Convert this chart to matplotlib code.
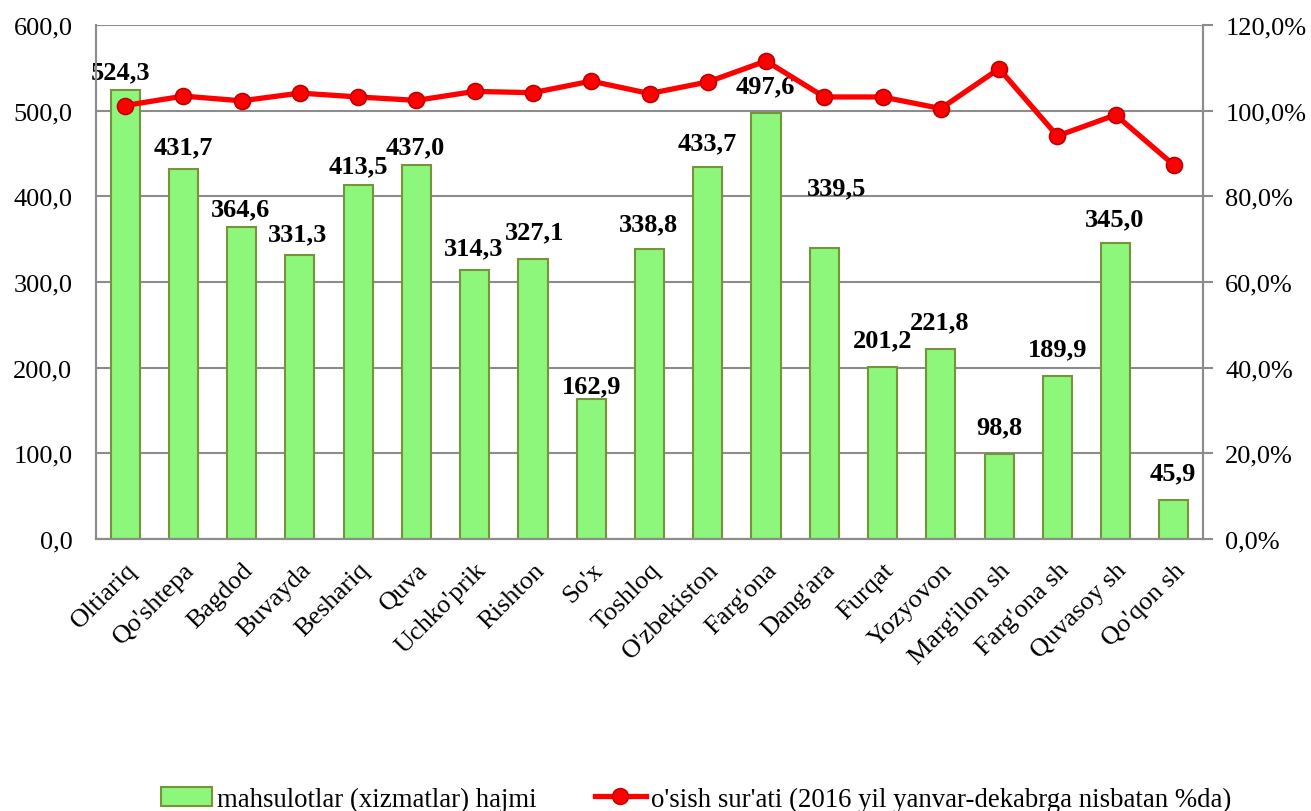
import matplotlib
matplotlib.use("Agg")
import matplotlib.pyplot as plt
from matplotlib.ticker import FuncFormatter, MultipleLocator
from matplotlib.lines import Line2D
from matplotlib.patches import Patch

categories = ["Oltiariq", "Qo'shtepa", "Bagdod", "Buvayda", "Beshariq", "Quva",
              "Uchko'prik", "Rishton", "So'x", "Toshloq", "O'zbekiston", "Farg'ona",
              "Dang'ara", "Furqat", "Yozyovon", "Marg'ilon sh", "Farg'ona sh",
              "Quvasoy sh", "Qo'qon sh"]
volume = [524.3, 431.7, 364.6, 331.3, 413.5, 437.0, 314.3, 327.1, 162.9, 338.8,
          433.7, 497.6, 339.5, 201.2, 221.8, 98.8, 189.9, 345.0, 45.9]
growth = [101.2, 103.4, 102.3, 104.1, 103.2, 102.4, 104.5, 104.2, 106.9, 104.0,
          106.7, 111.6, 103.2, 103.2, 100.5, 109.8, 94.1, 99.0, 87.3]

bar_label = "mahsulotlar (xizmatlar) hajmi"
line_label = "o'sish sur'ati (2016 yil yanvar-dekabrga nisbatan %da)"

# label offsets (px) relative to bar top
label_offsets = [(-5, 18), (0, 22), (-1, 18), (-2, 21), (0, 19), (-1, 18), (-1, 22),
                 (2, 27), (0, 14), (-1, 25), (-1, 25), (-1, 27), (12, 60), (0, 27),
                 (-1, 27), (0, 28), (0, 28), (-1, 25), (-1, 27)]

plt.rcParams['font.family'] = ['Liberation Serif', 'DejaVu Serif']

W, H = 1311, 812
fig = plt.figure(figsize=(W / 100, H / 100), dpi=100)
ax = fig.add_axes([96 / W, 1 - 540 / H, (1203 - 96) / W, (540 - 26) / H])
ax2 = ax.twinx()

x = list(range(len(categories)))
ax.bar(x, volume, width=0.5, color="#8CF77A", edgecolor="#77933C", linewidth=1.5, zorder=2)
ax.set_xlim(-0.5, len(categories) - 0.5)
ax.set_ylim(0, 600)
ax.yaxis.set_major_locator(MultipleLocator(100))
ax.yaxis.set_major_formatter(FuncFormatter(lambda v, p: f"{v:.1f}".replace(".", ",")))
ax.grid(axis="y", color="#8C8C8C", linewidth=1.5, zorder=0)
ax.set_axisbelow(True)

for i, v in enumerate(volume):
    dx, dy = label_offsets[i]
    ax.annotate(f"{v:.1f}".replace(".", ","), xy=(i, v), xytext=(dx * 0.72, dy * 0.72),
                textcoords="offset points", ha="center", va="center",
                fontsize=19, fontweight="bold", zorder=5)

ax2.plot(x, growth, color="#FF0000", linewidth=3.8, marker="o", markersize=11.5,
         markerfacecolor="#FF0000", markeredgecolor="#C00000", markeredgewidth=1.2, zorder=4)
ax2.set_ylim(0, 120)
ax2.yaxis.set_major_locator(MultipleLocator(20))
ax2.yaxis.set_major_formatter(FuncFormatter(lambda v, p: f"{v:.1f}".replace(".", ",") + "%"))

ax.set_xticks(x)
ax.set_xticklabels(categories, rotation=45, ha="right", rotation_mode="anchor", fontsize=19)
ax.tick_params(axis="x", length=0, pad=14)
ax.tick_params(axis="y", labelsize=19, length=0, pad=17)
ax2.tick_params(axis="y", labelsize=19, length=7, width=1.5, color="#8C8C8C", pad=9)

for a in (ax, ax2):
    a.spines["top"].set_visible(False)
    for s in ("left", "right", "bottom"):
        a.spines[s].set_color("#8C8C8C")
        a.spines[s].set_linewidth(1.5)

handles = [Patch(facecolor="#8CF77A", edgecolor="#77933C", linewidth=1.5),
           Line2D([0], [0], color="#FF0000", linewidth=3.8, marker="o", markersize=11.5,
                  markerfacecolor="#FF0000", markeredgecolor="#C00000")]
fig.legend(handles, [bar_label, line_label], loc="center", ncol=2,
           bbox_to_anchor=(0.531, 1 - 800 / H), frameon=False, fontsize=19.3,
           handlelength=1.9, handletextpad=0.19, columnspacing=2.16)

fig.savefig("out.png", dpi=100)
